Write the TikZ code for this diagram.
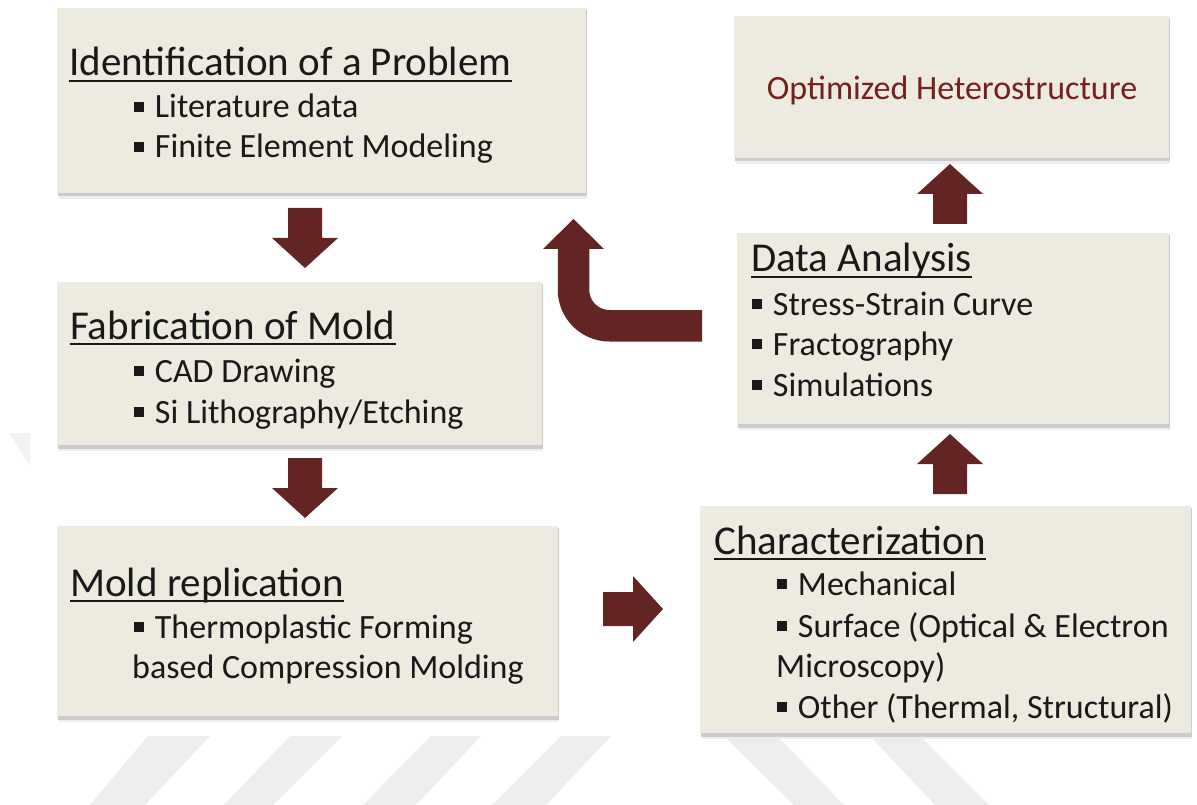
\documentclass[tikz,border=0pt]{standalone}
\usepackage{fontspec}
\setmainfont{Carlito}
\usetikzlibrary{calc}

\definecolor{boxfill}{RGB}{237,235,224}
\definecolor{arrowred}{RGB}{99,37,35}
\definecolor{optred}{RGB}{118,32,30}
\definecolor{wmgray}{RGB}{237,237,237}
\definecolor{txt}{RGB}{25,25,25}

% square bullet followed by a gap
\newcommand\sqbul{\rule[0.18em]{0.29em}{0.29em}\hspace{0.32em}}

% panel with a soft drop shadow: name, x1, y1, x2, y2
\newcommand\panelbox[5]{%
  \fill[black!7]  (#2+1.5,#3+4) rectangle (#4+1.2,#5+6);
  \fill[black!20] (#2+0.5,#3+2) rectangle (#4+0.6,#5+3.5);
  \node[panel, minimum width={(#4-#2)*1pt}, minimum height={(#5-#3)*1pt}] (#1) at (#2,#3) {};
}

\tikzset{
  panel/.style={draw=none, fill=boxfill, inner sep=0pt, outer sep=0pt, anchor=north west},
  ttl/.style={anchor=base west, inner sep=0pt, text=txt, font=\fontsize{41}{48}\selectfont},
  item/.style={anchor=base west, inner sep=0pt, text=txt, font=\fontsize{34}{40}\selectfont},
  uline/.style={draw=txt, line width=2.2pt},
  blockdown/.pic={
    \fill[arrowred] (-17,0) -- (17,0) -- (17,30) -- (33,30) -- (0,60)
      -- (-33,30) -- (-17,30) -- cycle;
  },
}

\begin{document}
\begin{tikzpicture}[x=1pt, y=-1pt]
\useasboundingbox (0,0) rectangle (1197,805);
\fill[white] (0,0) rectangle (1197,805);

% faint stripes along the bottom edge
\fill[wmgray] (148,736) -- (210,736) -- (145,805) -- (90,805) -- cycle;
\fill[wmgray] (290,736) -- (342,736) -- (273,805) -- (224,805) -- cycle;
\fill[wmgray] (431,736) -- (481,736) -- (416,805) -- (363,805) -- cycle;
\fill[wmgray] (561,736) -- (611,736) -- (546,805) -- (492,805) -- cycle;
\fill[wmgray] (724,736) -- (777,736) -- (844,805) -- (794,805) -- cycle;
\fill[wmgray] (870,736) -- (920,736) -- (989,805) -- (935,805) -- cycle;
\fill[black!5] (9,433) -- (30,433) -- (30,466) -- cycle;

% panels
\panelbox{idbox}{57}{8}{586}{193}
\panelbox{optbox}{734}{16}{1169}{158}
\panelbox{databox}{737}{233}{1169}{424}
\panelbox{fabbox}{57}{282}{542}{445}
\panelbox{moldbox}{57}{526}{558}{716}
\panelbox{charbox}{700}{506}{1191}{733}

% Identification of a Problem
\node[ttl] (idt) at (69,76) {Identification of a Problem};
\draw[uline] ($(idt.base west)+(0,5)$) -- ($(idt.base east)+(0,5)$);
\node[item] (id1) at (134,118) {\sqbul Literature data};
\node[item] (id2) at (134,158) {\sqbul Finite Element Modeling};

% Optimized Heterostructure
\node[anchor=base, inner sep=0pt, text=optred, font=\fontsize{34}{40}\selectfont]
  (optt) at (952,100) {Optimized Heterostructure};

% Data Analysis
\node[ttl] (datat) at (751,272) {Data Analysis};
\draw[uline] ($(datat.base west)+(0,5)$) -- ($(datat.base east)+(0,5)$);
\node[item] (data1) at (752,315) {\sqbul Stress-Strain Curve};
\node[item] (data2) at (752,355) {\sqbul Fractography};
\node[item] (data3) at (752,396) {\sqbul Simulations};

% Fabrication of Mold
\node[ttl] (fabt) at (70,339) {Fabrication of Mold};
\draw[uline] ($(fabt.base west)+(0,5)$) -- ($(fabt.base east)+(0,5)$);
\node[item] (fab1) at (134,382) {\sqbul CAD Drawing};
\node[item] (fab2) at (134,423) {\sqbul Si Lithography/Etching};

% Mold replication
\node[ttl] (moldt) at (70,596) {Mold replication};
\draw[uline] ($(moldt.base west)+(0,5)$) -- ($(moldt.base east)+(0,5)$);
\node[item] (mold1) at (134,638) {\sqbul Thermoplastic Forming};
\node[item] (mold2) at (132,678) {based Compression Molding};

% Characterization
\node[ttl] (chart) at (714,554) {Characterization};
\draw[uline] ($(chart.base west)+(0,5)$) -- ($(chart.base east)+(0,5)$);
\node[item] (char1) at (777,595) {\sqbul Mechanical};
\node[item] (char2) at (777,637) {\sqbul Surface (Optical \& Electron};
\node[item] (char3) at (776,677) {Microscopy)};
\node[item] (char4) at (777,718) {\sqbul Other (Thermal, Structural)};

% block arrows between the panels
\pic at (305,208) {blockdown};
\pic at (305,458) {blockdown};
\pic[rotate=180] at (950,224) {blockdown};
\pic[rotate=180] at (950,494) {blockdown};
\pic[rotate=90] at (603,609) {blockdown};

% bent arrow returning from the analysis step
\coordinate (uend) at (702,325.75);
\coordinate (ubend) at (573.5,325.75);
\coordinate (utop) at (573.5,248);
\draw[arrowred, line width=31.5pt, rounded corners=36pt] (uend) -- (ubend) -- (utop);
\fill[arrowred] (543,249) -- (604,249) -- (573.5,219) -- cycle;
\end{tikzpicture}
\end{document}
